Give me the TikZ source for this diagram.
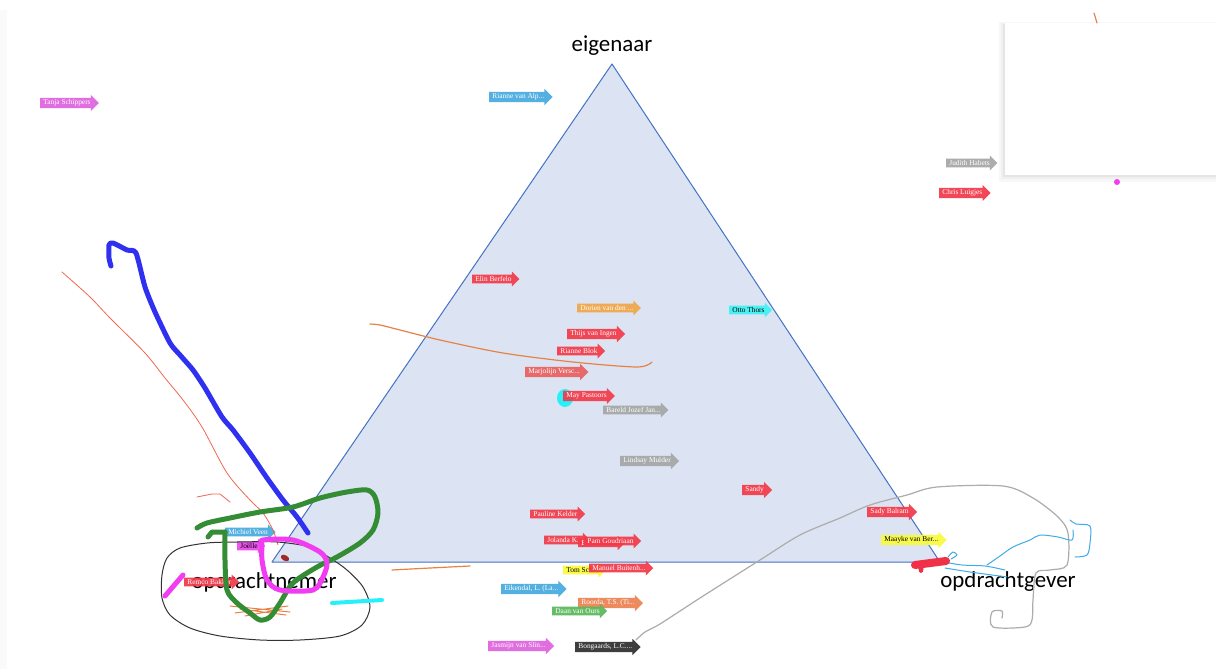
\documentclass[tikz,border=0pt]{standalone}
\usepackage{fontspec}
\setmainfont{Liberation Serif}
\newfontfamily\cornerfont{Carlito}
\newfontfamily\tagfont{Liberation Serif}
\usetikzlibrary{shapes.arrows}
\definecolor{cred}{RGB}{242,58,74}
\definecolor{cblue}{RGB}{72,170,222}
\definecolor{cmag}{RGB}{222,100,222}
\definecolor{cmagb}{RGB}{236,70,236}
\definecolor{cgray}{RGB}{166,166,166}
\definecolor{corange}{RGB}{240,166,72}
\definecolor{corangeb}{RGB}{236,130,82}
\definecolor{ccyan}{RGB}{64,242,242}
\definecolor{cyellow}{RGB}{250,250,64}
\definecolor{cgreen}{RGB}{92,184,92}
\definecolor{cdark}{RGB}{48,48,48}
\definecolor{csalmon}{RGB}{232,96,96}
\definecolor{trifill}{RGB}{220,228,243}
\definecolor{triedge}{RGB}{68,114,196}
\definecolor{penblue}{RGB}{48,48,240}
\definecolor{pengreen}{RGB}{52,140,52}
\definecolor{penmag}{RGB}{242,60,242}
\definecolor{penred}{RGB}{240,104,84}
\definecolor{penorange}{RGB}{230,130,70}
\definecolor{pengray}{RGB}{172,172,172}
\definecolor{pensky}{RGB}{64,172,230}
\definecolor{pencyan}{RGB}{40,240,250}
\definecolor{penblob}{RGB}{240,48,70}
\definecolor{pendark}{RGB}{160,40,40}
\tikzset{
  tag/.style={single arrow, draw=none, fill=#1, fill opacity=0.93, text opacity=1,
    text=white, font=\tagfont\fontsize{7.4}{8}\selectfont,
    inner xsep=3bp, inner ysep=1.6bp, single arrow head extend=3bp,
    single arrow tip angle=90, minimum height=0pt, minimum width=0pt, anchor=west},
  corner/.style={font=\cornerfont\fontsize{23}{26}\selectfont, inner sep=0pt},
  tri/.style={fill=trifill, draw=triedge, line width=1bp, line join=round},
  pen/.style={line cap=round, line join=round},
  thickpen/.style={pen, line width=5bp, draw=#1},
  thinpen/.style={pen, line width=1bp, draw=#1}
}
\begin{document}
\begin{tikzpicture}[x=1bp,y=-1bp]
\useasboundingbox (0,0) rectangle (1216,669);
\fill[white] (0,0) rectangle (1216,669);
\fill[black!2] (0,10) rectangle (7,669);
% triangle
\coordinate (A) at (612,64);
\coordinate (B) at (272,562);
\coordinate (C) at (940,562);
\draw[tri] (A) -- (B) -- (C) -- cycle;
% corner labels
\node[corner] (eig) at (612,46) {eigenaar};
\node[corner] (nemer) at (264,582) {opdrachtnemer};
\node[corner] (gever) at (1008,582) {opdrachtgever};
% white panel with shadow
\fill[black!3] (999,22) rectangle (1216,182);
\fill[black!6] (1001,23) rectangle (1216,179);
\fill[black!10] (1003,24) rectangle (1216,177);
\fill[white] (1005,23) rectangle (1216,175);
% cyan blob under May Pastoors
\fill[pencyan] (565,398) ellipse (8bp and 9bp);
% tags
\node[tag=cmag] (tanja) at (40,103) {Tanja Schippers};
\node[tag=cblue] (rianneA) at (489,97) {Rianne van Alp...};
\node[tag=cgray] (judith) at (946,163) {Judith Habets};
\node[tag=cred] (chris) at (939,193) {Chris Luigjes};
\node[tag=cred] (elin) at (472,279) {Elin Berfelo};
\node[tag=corange] (dorien) at (577,308) {Dorien van den ...};
\node[tag=ccyan, text=black] (otto) at (729,310) {Otto Thors};
\node[tag=cred] (thijs) at (567,334) {Thijs van Ingen};
\node[tag=cred] (rianneB) at (557,351) {Rianne Blok};
\node[tag=csalmon] (marjolijn) at (525,372) {Marjolijn Versc...};
\node[tag=cred] (may) at (563,396) {May Pastoors};
\node[tag=cgray] (bareld) at (603,410) {Bareld Jozef Jan...};
\node[tag=cgray] (lindsay) at (620,461) {Lindsay Mulder};
\node[tag=cred] (sandy) at (742,490) {Sandy};
\node[tag=cred] (pauline) at (530,514) {Pauline Kelder};
\node[tag=cred] (jolanda) at (544,540) {Jolanda K...};
\node[tag=cred, text width=36bp, align=left] (eee) at (578,543) {E};
\node[tag=cred] (pam) at (584,541) {Pam Goudriaan};
\node[tag=cyellow, text=black] (tom) at (563,570) {Tom Sch...};
\node[tag=cred] (manuel) at (589,568) {Manuel Buitenh...};
\node[tag=cblue] (eikendal) at (501,589) {Eikendal, L. (La...};
\node[tag=corangeb] (roorda) at (578,603) {Roorda, T.S. (Ti...};
\node[tag=cgreen] (daan) at (552,611) {Daan van Ours};
\node[tag=cmag] (jasmijn) at (488,646) {Jasmijn van Slin...};
\node[tag=cdark] (bongaards) at (575,647) {Bongaards, L.C....};
\node[tag=cblue] (michiel) at (225,532) {Michiel Veen};
\node[tag=cmagb, text=black] (joelle) at (237,546) {Joëlle};
\node[tag=cred] (remco) at (184,582) {Remco Bakker};
\node[tag=cred] (sady) at (867,512) {Sady Balram};
\node[tag=cyellow, text=black] (maayke) at (881,540) {Maayke van Ber...};
% freehand strokes
\draw[thinpen=penred, line width=0.8bp] plot[smooth] coordinates {(62,272) (90,297) (110,318) (145,353) (165,378) (183,400) (202,427) (227,473) (250,500) (263,513) (273,530) (278,545)};
\draw[thinpen=penred, line width=0.8bp] (197,497) -- (212,494) -- (220,494) -- (230,502);
\draw[thickpen=penblue] plot[smooth, tension=0.4] coordinates {(111,266) (109,258) (109,245) (113,243) (127,250) (136,253) (145,287) (155,312) (170,343) (180,355) (193,370) (205,388) (222,417) (233,430) (250,453) (267,478) (283,500) (297,517) (308,533)};
\draw[thinpen=black!80] plot[smooth cycle] coordinates {(207,543) (180,548) (167,558) (162,575) (162,598) (170,615) (190,628) (220,636) (260,640) (300,640) (340,636) (362,625) (370,607) (363,587) (347,570) (330,558) (310,547) (277,542) (237,542)};
\draw[thinpen=penorange] (230,606) -- (290,612) (235,613) -- (288,606) (240,609) -- (286,615) (245,616) -- (282,609);
\draw[thickpen=pengreen] plot[smooth, tension=0.5] coordinates {(197,528) (207,523) (230,518) (260,512) (293,507) (320,498) (347,492) (367,490) (375,497) (378,513) (373,530) (360,543) (337,557) (317,567) (293,583) (280,603) (270,617) (260,620) (250,613) (237,603) (227,590) (225,560) (225,532)};
\draw[thickpen=pengreen] (225,532) -- (212,532) -- (208,537);
\draw[thickpen=penmag] plot[smooth cycle, tension=0.5] coordinates {(263,540) (293,540) (320,552) (327,563) (323,577) (313,590) (280,590) (267,580) (262,560) (262,545)};
\draw[thickpen=penmag] (165,596) -- (183,575);
\fill[pendark, rotate around={-30:(285,558)}] (285,558) ellipse (4.5bp and 2.8bp);
\draw[pen, line width=4bp, draw=pencyan] (332,603) -- (382,600);
\draw[thinpen=penorange, line width=1.2bp] (392,570) -- (430,568) -- (470,566);
\draw[thinpen=penorange, line width=1.2bp] plot[smooth] coordinates {(370,324) (380,325) (400,330) (440,340) (503,353) (573,362) (637,367) (652,362)};
\draw[thinpen=pengray, line width=1.2bp] plot[smooth, tension=0.5] coordinates {(636,640) (645,632) (660,624) (700,598) (760,560) (800,535) (840,518) (870,505) (907,495) (937,487) (1003,486) (1033,498) (1058,517) (1068,533) (1067,565) (1050,570) (1036,573) (1033,600) (1032,620) (1025,627) (993,627) (992,612) (1002,611) (1002,618)};
\draw[thinpen=pensky] plot[smooth] coordinates {(944,562) (962,565) (985,566) (1005,570)};
\draw[thinpen=pensky] plot[smooth] coordinates {(987,565) (1000,556) (1013,547) (1030,540) (1040,535) (1058,537) (1072,540) (1073,530)};
\draw[thinpen=pensky] plot[smooth] coordinates {(945,568) (970,572) (1007,577)};
\draw[thinpen=pensky] plot[smooth] coordinates {(1070,520) (1076,524) (1090,526) (1090,543) (1087,555) (1075,557)};
\draw[thinpen=pensky] plot[smooth] coordinates {(948,557) (953,552) (957,555) (951,559)};
\draw[pen, line width=8bp, draw=penblob] (915,565) -- (946,561);
\fill[penblob] (921,569) ellipse (2.5bp and 4bp);
\draw[thinpen=penorange, line width=1.2bp] (1094,13) -- (1097,23);
\fill[penmag] (1117,182) circle (3bp);
\end{tikzpicture}
\end{document}
